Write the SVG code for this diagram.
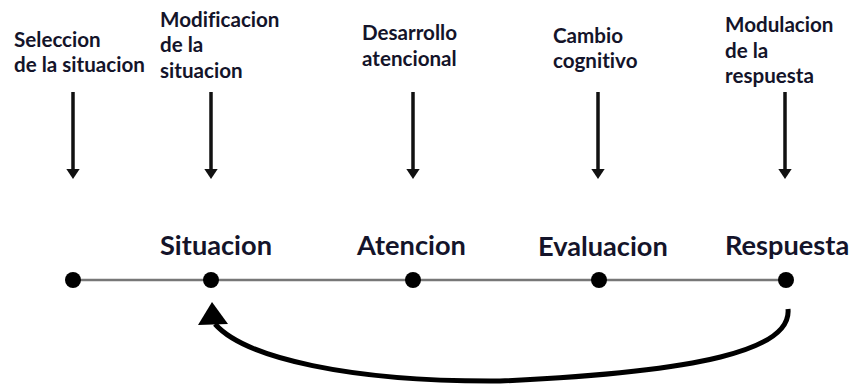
<svg xmlns="http://www.w3.org/2000/svg" width="853" height="385" viewBox="0 0 853 385">
  <style>
    text { font-variant-ligatures: none; }
    .top { font-family: Lato, "Liberation Sans", sans-serif; font-weight: bold; font-size: 20.6px; fill: #14142a; }
    .mid { font-family: Lato, "Liberation Sans", sans-serif; font-weight: bold; font-size: 27.2px; fill: #14142a; }
    .varrow { stroke: #111; stroke-width: 3.5; fill: none; }
    .dot { fill: #000; }
  </style>
  <defs>
    <marker id="vhead" markerWidth="4" markerHeight="4" refX="1" refY="2" orient="auto" markerUnits="strokeWidth">
      <path d="M0,0 L3,2 L0,4 Z" fill="#111"/>
    </marker>
  </defs>
  <rect width="853" height="385" fill="#fff"/>

  <g id="connectors">
    <line x1="73" y1="280" x2="786" y2="280" stroke="#777" stroke-width="2.5"/>
    <line class="varrow" x1="73" y1="92" x2="73" y2="172" marker-end="url(#vhead)"/>
    <line class="varrow" x1="211" y1="92" x2="211" y2="172" marker-end="url(#vhead)"/>
    <line class="varrow" x1="413" y1="92" x2="413" y2="172" marker-end="url(#vhead)"/>
    <line class="varrow" x1="598" y1="92" x2="598" y2="172" marker-end="url(#vhead)"/>
    <line class="varrow" x1="785" y1="92" x2="785" y2="172" marker-end="url(#vhead)"/>
    <path d="M788,309 C792,350 700,372 500,381 C350,382 245,358 215,324" stroke="#000" stroke-width="5" fill="none"/>
    <polygon points="212,302 198,325 228,324" fill="#000"/>
  </g>

  <g id="node-seleccion">
    <circle class="dot" cx="73" cy="280" r="8"/>
    <text class="top" x="14" y="47">Seleccion</text>
    <text class="top" x="14" y="72">de la situacion</text>
  </g>
  <g id="node-situacion">
    <circle class="dot" cx="211" cy="280" r="8"/>
    <text class="top" x="160" y="27">Modificacion</text>
    <text class="top" x="160" y="52">de la</text>
    <text class="top" x="160" y="78">situacion</text>
    <text class="mid" x="160" y="255">Situacion</text>
  </g>
  <g id="node-atencion">
    <circle class="dot" cx="413" cy="280" r="8"/>
    <text class="top" x="362" y="40">Desarrollo</text>
    <text class="top" x="362" y="66">atencional</text>
    <text class="mid" x="357" y="255">Atencion</text>
  </g>
  <g id="node-evaluacion">
    <circle class="dot" cx="599" cy="280" r="8"/>
    <text class="top" x="553" y="43">Cambio</text>
    <text class="top" x="553" y="68">cognitivo</text>
    <text class="mid" x="538" y="256">Evaluacion</text>
  </g>
  <g id="node-respuesta">
    <circle class="dot" cx="786" cy="280" r="8"/>
    <text class="top" x="725" y="32">Modulacion</text>
    <text class="top" x="725" y="58">de la</text>
    <text class="top" x="725" y="83">respuesta</text>
    <text class="mid" x="725" y="255">Respuesta</text>
  </g>
</svg>
